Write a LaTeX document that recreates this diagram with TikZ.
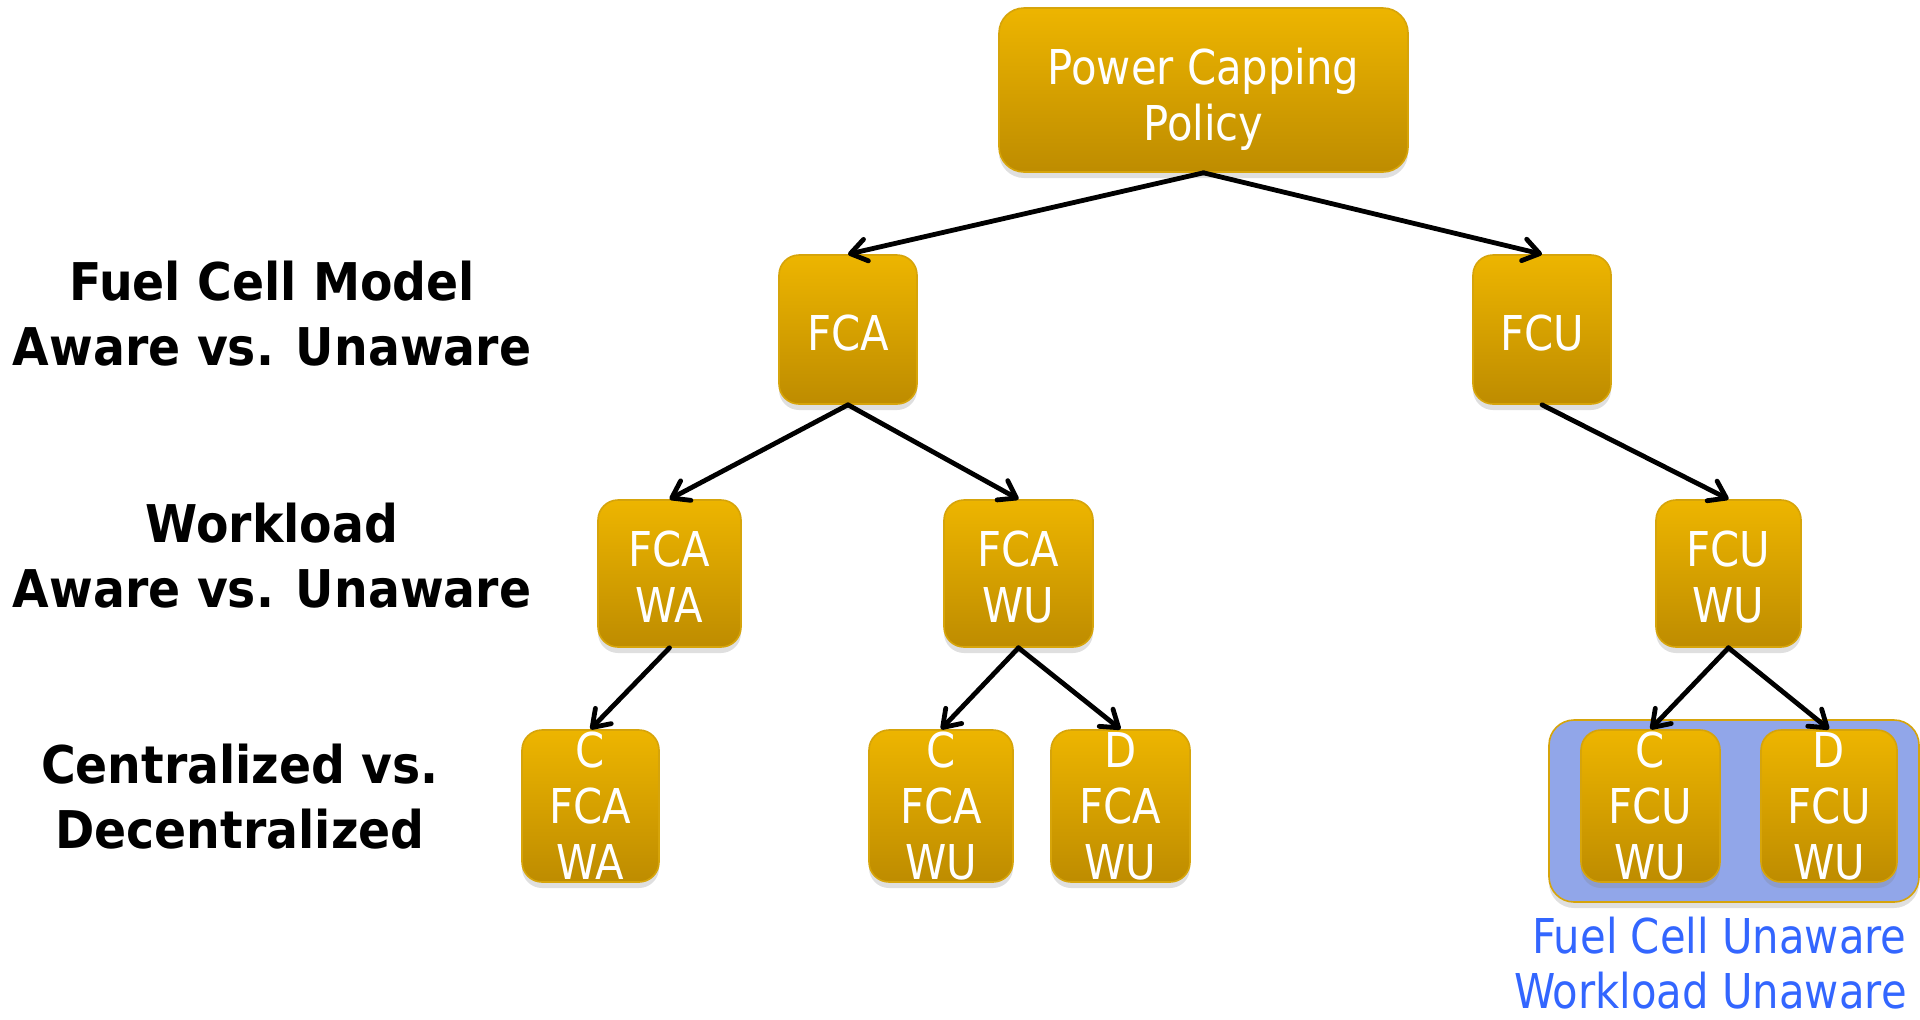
\documentclass[tikz,border=0pt]{standalone}
\usepackage{fontspec}
\setmainfont{DejaVu Sans}
\newfontfamily\boxfont[FakeStretch=0.87]{DejaVu Sans}
\newfontfamily\labfont[FakeStretch=0.91]{DejaVu Sans}
\usetikzlibrary{arrows.meta,shadows}
\definecolor{goldtop}{RGB}{237,181,0}
\definecolor{goldbot}{RGB}{190,140,0}
\definecolor{goldedge}{RGB}{214,164,10}
\definecolor{grpblue}{RGB}{145,166,233}
\definecolor{txtblue}{RGB}{51,102,255}
\begin{document}
\begin{tikzpicture}[x=0.5pt,y=-0.5pt,
  goldbox/.style={rectangle, rounded corners=10pt, top color=goldtop, bottom color=goldbot,
    draw=goldedge, line width=0.8pt, inner sep=0pt,
    drop shadow={opacity=0.25, shadow xshift=0pt, shadow yshift=-3pt}},
  boxtext/.style={text=white, font=\boxfont\fontsize{24pt}{28pt}\selectfont, align=center, inner sep=0pt},
  notetext/.style={text=txtblue, font=\boxfont\fontsize{24pt}{27.5pt}\selectfont, align=right, inner sep=0pt},
  levellabel/.style={font=\labfont\bfseries\fontsize{26pt}{32.5pt}\selectfont, align=center, inner sep=0pt},
  conn/.style={line width=2.4pt, -{Straight Barb[round,length=8pt,width=11pt]}, line cap=round},
]
\useasboundingbox (0,0) rectangle (1920,1019);

% level labels
\node[levellabel] (lab1) at (272,314) {Fuel Cell Model\\Aware vs. Unaware};
\node[levellabel] (lab2) at (272,556) {Workload\\Aware vs. Unaware};
\node[levellabel] (lab3) at (240,797) {Centralized vs.\\Decentralized};

% tree
\node[goldbox, rounded corners=12.5pt, minimum width=204.5pt, minimum height=82pt] (root) at (1203.5,90) {};
\node[goldbox, minimum width=69pt, minimum height=74.5pt] (fca) at (848,329.5) {};
\node[goldbox, minimum width=69pt, minimum height=74.5pt] (fcu) at (1542,329.5) {};
\node[goldbox, minimum width=71.5pt, minimum height=73.5pt] (fcawa) at (669.5,573.5) {};
\node[goldbox, minimum width=74.5pt, minimum height=73.5pt] (fcawu) at (1018.5,573.5) {};
\node[goldbox, minimum width=72.5pt, minimum height=73.5pt] (fcuwu) at (1728.5,573.5) {};
\node[boxtext] (roott) at (1203.5,99) {Power Capping\\Policy};
\node[boxtext] (fcat) at (848,333) {FCA};
\node[boxtext] (fcut) at (1542,333) {FCU};
\node[boxtext] (fcawat) at (669.5,577) {FCA\\WA};
\node[boxtext] (fcawut) at (1018.5,577) {FCA\\WU};
\node[boxtext] (fcuwut) at (1728.5,577) {FCU\\WU};

% group
\node[rectangle, rounded corners=12.5pt, fill=grpblue, draw=goldedge, line width=0.8pt,
  minimum width=185pt, minimum height=91pt,
  drop shadow={opacity=0.25, shadow xshift=0pt, shadow yshift=-3pt}] (grp) at (1734,811) {};

% level 3 boxes
\node[goldbox, minimum width=68.5pt, minimum height=76pt] (c1) at (590.5,806) {};
\node[goldbox, minimum width=72pt, minimum height=76pt] (c2) at (941,806) {};
\node[goldbox, minimum width=69.5pt, minimum height=76pt] (d2) at (1120.5,806) {};
\node[goldbox, minimum width=69.5pt, minimum height=76pt] (c3) at (1650.5,806) {};
\node[goldbox, minimum width=68pt, minimum height=76pt] (d3) at (1829,806) {};
\node[boxtext] (c1t) at (c1.center) {C\\FCA\\WA};
\node[boxtext] (c2t) at (c2.center) {C\\FCA\\WU};
\node[boxtext] (d2t) at (d2.center) {D\\FCA\\WU};
\node[boxtext] (c3t) at (c3.center) {C\\FCU\\WU};
\node[boxtext] (d3t) at (d3.center) {D\\FCU\\WU};

\node[notetext, anchor=north east] (note) at (1907,917) {Fuel Cell Unaware\\Workload Unaware};

% connectors
\draw[conn] (root.south) -- (fca.north);
\draw[conn] (root.south) -- (fcu.north);
\draw[conn] (fca.south) -- (fcawa.north);
\draw[conn] (fca.south) -- (fcawu.north);
\draw[conn] (fcu.south) -- (fcuwu.north);
\draw[conn] (fcawa.south) -- (c1.north);
\draw[conn] (fcawu.south) -- (c2.north);
\draw[conn] (fcawu.south) -- (d2.north);
\draw[conn] (fcuwu.south) -- (c3.north);
\draw[conn] (fcuwu.south) -- (d3.north);
\end{tikzpicture}
\end{document}
